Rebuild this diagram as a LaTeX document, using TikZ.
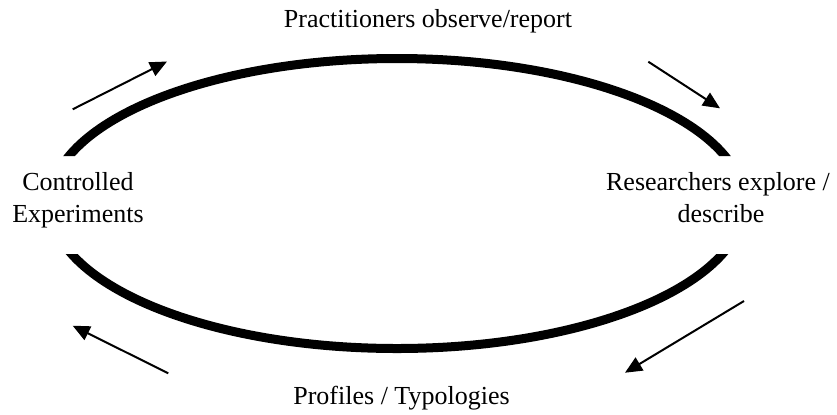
\documentclass[tikz,border=0pt]{standalone}
\usepackage{fontspec}
\setmainfont{Liberation Serif}
\usetikzlibrary{arrows.meta}
\begin{document}
\begin{tikzpicture}[x=1bp,y=-1bp,
  lbl/.style={inner sep=0pt, anchor=base, font=\fontsize{26bp}{30bp}\selectfont},
  flow/.style={line width=2bp, -{Triangle[length=17bp,width=15bp]}},
  ring/.style={line width=9bp}]
\useasboundingbox (0,0) rectangle (837,414);
\begin{scope}
  \clip (0,0) rectangle (837,156) (0,254) rectangle (837,414);
  \draw[ring] (397,203.5) ellipse [x radius=347bp, y radius=145bp];
\end{scope}
% labels
\node[lbl] (top) at (428,27) {Practitioners observe/report};
\node[lbl] (bottom) at (401.5,404) {Profiles / Typologies};
\node[lbl] (left1) at (78,190) {Controlled};
\node[lbl] (left2) at (78,222) {Experiments};
\node[lbl] (right1) at (718,190) {Researchers explore /};
\node[lbl] (right2) at (721,222) {describe};
% arrows
\coordinate (a1s) at (72.7,109.3);  \coordinate (a1e) at (167,61.5);
\coordinate (a2s) at (648.3,61.7);  \coordinate (a2e) at (720,108.3);
\coordinate (a3s) at (744,301);     \coordinate (a3e) at (625,372.7);
\coordinate (a4s) at (168.3,373.3); \coordinate (a4e) at (72.7,325.7);
\draw[flow] (a1s) -- (a1e);
\draw[flow] (a2s) -- (a2e);
\draw[flow] (a3s) -- (a3e);
\draw[flow] (a4s) -- (a4e);
\end{tikzpicture}
\end{document}
